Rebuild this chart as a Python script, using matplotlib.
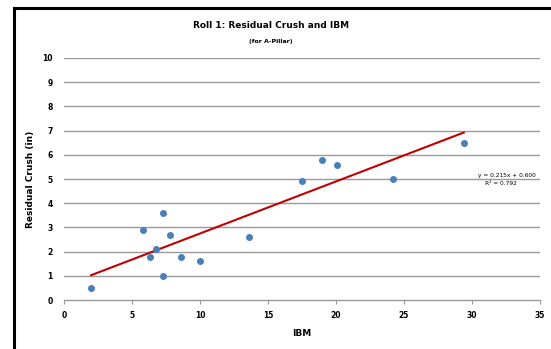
import matplotlib
matplotlib.use("Agg")
import matplotlib.pyplot as plt
from matplotlib.lines import Line2D
import numpy as np

# data
ibm = [2.0, 5.8, 6.3, 6.8, 7.3, 7.3, 7.8, 8.6, 10.0, 13.6, 17.5, 19.0, 20.1, 24.2, 29.4]
crush = [0.5, 2.9, 1.8, 2.1, 3.6, 1.0, 2.7, 1.8, 1.6, 2.6, 4.9, 5.8, 5.6, 5.0, 6.5]
slope = 0.215
intercept = 0.600
r2 = 0.792
x_ticks = [0, 5, 10, 15, 20, 25, 30, 35]
y_ticks = list(range(0, 11))

fig = plt.figure(figsize=(5.51, 3.49), dpi=100, facecolor="white")
ax = fig.add_axes([0.116, 0.140, 0.864, 0.694])

# grid
for yv in y_ticks[1:]:
    ax.axhline(yv, color="#9a9a9a", lw=1.0, zorder=1)

ax.plot(ibm, crush, "o", color="#4a7ebb", markersize=4, zorder=3)

# linear trendline
xs = np.array([min(ibm), max(ibm)])
ax.plot(xs, slope * xs + intercept, color="#c00000", lw=1.5, zorder=2)

ax.set_xlim(0, 35)
ax.set_ylim(0, 10)
ax.set_xticks(x_ticks)
ax.set_yticks(y_ticks)
ax.set_xticklabels([str(v) for v in x_ticks], fontsize=5.5, fontweight="bold")
ax.set_yticklabels([str(v) for v in y_ticks], fontsize=5.5, fontweight="bold")
for s in ["top", "right", "left"]:
    ax.spines[s].set_visible(False)
ax.spines["bottom"].set_color("#9a9a9a")
ax.spines["bottom"].set_linewidth(1.0)
ax.tick_params(axis="x", length=3, color="#9a9a9a", pad=5)
ax.tick_params(axis="y", length=0, pad=8)

ax.set_xlabel("IBM", fontsize=6.5, fontweight="bold", labelpad=6)
ax.set_ylabel("Residual Crush (in)", fontsize=6.5, fontweight="bold", labelpad=5)

fig.text(0.492, 0.928, "Roll 1: Residual Crush and IBM", ha="center", va="center",
         fontsize=6.5, fontweight="bold")
fig.text(0.492, 0.880, "(for A-Pillar)", ha="center", va="center",
         fontsize=4.5, fontweight="bold")

fig.text(0.868, 0.496, "y = %.3fx + %.3f" % (slope, intercept), ha="left", va="center",
         fontsize=4.2)
fig.text(0.880, 0.474, "R\u00b2 = %.3f" % r2, ha="left", va="center",
         fontsize=4.2)

# chart border, clipped at top/left like the source
fig.add_artist(Line2D([14 / 551, 14 / 551], [0, 1 - 8 / 349], color="black", lw=2.2))
fig.add_artist(Line2D([14 / 551, 1], [1 - 8 / 349, 1 - 8 / 349], color="black", lw=2.2))

fig.savefig("out.png", dpi=100)
